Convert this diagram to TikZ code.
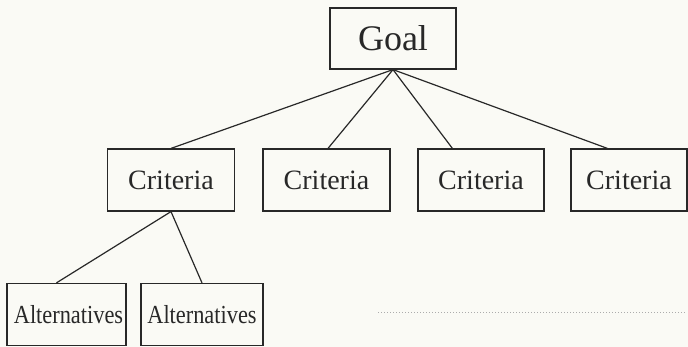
\documentclass[tikz,border=0pt]{standalone}
\usepackage{fontspec}
\setmainfont{Liberation Serif}
\definecolor{paper}{RGB}{250,250,245}
\definecolor{ink}{RGB}{40,40,40}
\begin{document}
\begin{tikzpicture}[x=1pt,y=-1pt,
  box/.style={draw=ink,line width=1.2pt,text=ink,inner sep=0pt,anchor=center},
  goalbox/.style={box,minimum width=126pt,minimum height=61pt,font=\fontsize{36}{40}\selectfont},
  critbox/.style={box,minimum width=127pt,minimum height=62pt,font=\fontsize{28}{32}\selectfont},
  altbox/.style={box,minimum width=120pt,minimum height=62pt,font=\fontsize{26}{30}\selectfont},
  link/.style={draw=ink,line width=1.2pt}]
  % page
  \fill[paper] (0,0) rectangle (688,347);
  \useasboundingbox (0,0) rectangle (688,347);

  % top of the hierarchy
  \node[goalbox] (goal) at (393,38.5) {Goal};

  % criteria level
  \node[critbox] (c1) at (171,180) {Criteria};
  \node[critbox] (c2) at (326.5,180) {Criteria};
  \node[critbox,minimum width=126pt] (c3) at (481,180) {Criteria};
  \node[critbox,minimum width=116pt] (c4) at (629,180) {Criteria};

  % alternatives under the first criterion
  \node[altbox,minimum width=119pt] (a1) at (66.5,314.5) {\hspace*{4pt}\scalebox{0.86}[1]{Alternatives}};
  \node[altbox,minimum width=122pt] (a2) at (202,314.5) {\scalebox{0.86}[1]{Alternatives}};

  % connectors
  \draw[link] (goal.south) -- (c1.north);
  \draw[link] (goal.south) -- ([xshift=1.5pt]c2.north);
  \draw[link] (goal.south) -- ([xshift=35pt]c3.north west);
  \draw[link] (goal.south) -- ([xshift=37pt]c4.north west);
  \draw[link] (c1.south) -- ([xshift=50pt]a1.north west);
  \draw[link] (c1.south) -- (a2.north);

  % faint dotted continuation of the alternatives row
  \coordinate (dotsstart) at (378,313);
  \coordinate (dotsend) at (686,313);
  \draw[gray!65,line width=1pt,dotted] (dotsstart) -- (dotsend);
\end{tikzpicture}
\end{document}
